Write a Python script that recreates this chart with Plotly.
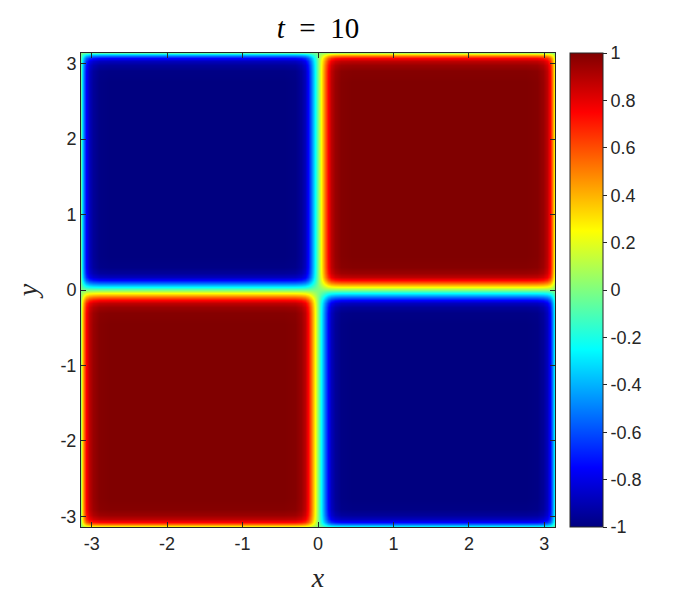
import plotly.graph_objects as go

# grid nodes (same along x and y): interfaces at -pi, 0, +pi
nodes = [-3.1416, -3.125, -3.10, -3.07, -3.03, -2.98, -2.90, -2.76,
         -0.45, -0.30, -0.22, -0.17, -0.13, -0.09, -0.046, 0.0,
         0.046, 0.09, 0.13, 0.17, 0.22, 0.30, 0.45,
         2.76, 2.90, 2.98, 3.03, 3.07, 3.10, 3.125, 3.1416]

# profile of u across the nodes (u = profile(x) * profile(y))
profile = [-0.10, -0.30, -0.55, -0.75, -0.88, -0.95, -0.99, -1.0,
           -1.0, -0.99, -0.95, -0.88, -0.75, -0.55, -0.25, 0.0,
           0.25, 0.55, 0.75, 0.88, 0.95, 0.99, 1.0,
           1.0, 0.99, 0.95, 0.88, 0.75, 0.55, 0.30, 0.10]

axis_ticks = [-3, -2, -1, 0, 1, 2, 3]
axis_labels = ['-3', '-2', '-1', '0', '1', '2', '3']
cbar_ticks = [-1, -0.8, -0.6, -0.4, -0.2, 0, 0.2, 0.4, 0.6, 0.8, 1]
cbar_labels = ['-1', '-0.8', '-0.6', '-0.4', '-0.2', '0', '0.2', '0.4', '0.6', '0.8', '1']

z = [[py * px for px in profile] for py in profile]

# MATLAB jet
jet = [
    [0.0, 'rgb(0,0,128)'],
    [0.125, 'rgb(0,0,255)'],
    [0.375, 'rgb(0,255,255)'],
    [0.625, 'rgb(255,255,0)'],
    [0.875, 'rgb(255,0,0)'],
    [1.0, 'rgb(128,0,0)'],
]

axcol = '#262626'
tickfont = dict(family='Liberation Sans, Arial, sans-serif', size=18, color=axcol)
labelfont = dict(family='Liberation Serif, serif', size=28, color=axcol)

fig = go.Figure()
fig.add_trace(go.Heatmap(
    x=nodes,
    y=nodes,
    z=z,
    zmin=-1,
    zmax=1,
    zsmooth='best',
    colorscale=jet,
    hoverinfo='skip',
    colorbar=dict(
        x=1.0316,
        xanchor='left',
        y=0.5,
        yanchor='middle',
        len=1.0,
        lenmode='fraction',
        thickness=33,
        thicknessmode='pixels',
        outlinewidth=1,
        outlinecolor=axcol,
        tickvals=cbar_ticks,
        ticktext=cbar_labels,
        ticks='outside',
        ticklen=4,
        tickcolor=axcol,
        tickfont=tickfont,
        xpad=0,
        ypad=0,
    ),
))

for upd in (fig.update_xaxes, fig.update_yaxes):
    upd(
        range=[-3.1416, 3.1416],
        tickvals=axis_ticks,
        ticktext=axis_labels,
        ticks='inside',
        ticklen=5,
        tickcolor=axcol,
        tickfont=tickfont,
        showline=True,
        linecolor=axcol,
        linewidth=1,
        mirror='ticks',
        showgrid=False,
        zeroline=False,
    )
fig.update_xaxes(title=dict(text='<i>x</i>', font=labelfont, standoff=14))
fig.update_yaxes(title=dict(text='<i>y</i>', font=labelfont, standoff=14))

# page body adds 8px, so margins are shifted by that
fig.update_layout(
    width=700,
    height=600,
    margin=dict(l=73, r=153, t=45, b=81),
    paper_bgcolor='white',
    plot_bgcolor='white',
    title=dict(
        text='<i>t</i>\u2002=\u200210',
        x=(73 + 547) / 2 / 700,
        xanchor='center',
        y=1 - 20 / 600,
        yanchor='middle',
        font=dict(family='Liberation Serif, serif', size=29, color='black'),
    ),
)

fig.write_html("out.html")
